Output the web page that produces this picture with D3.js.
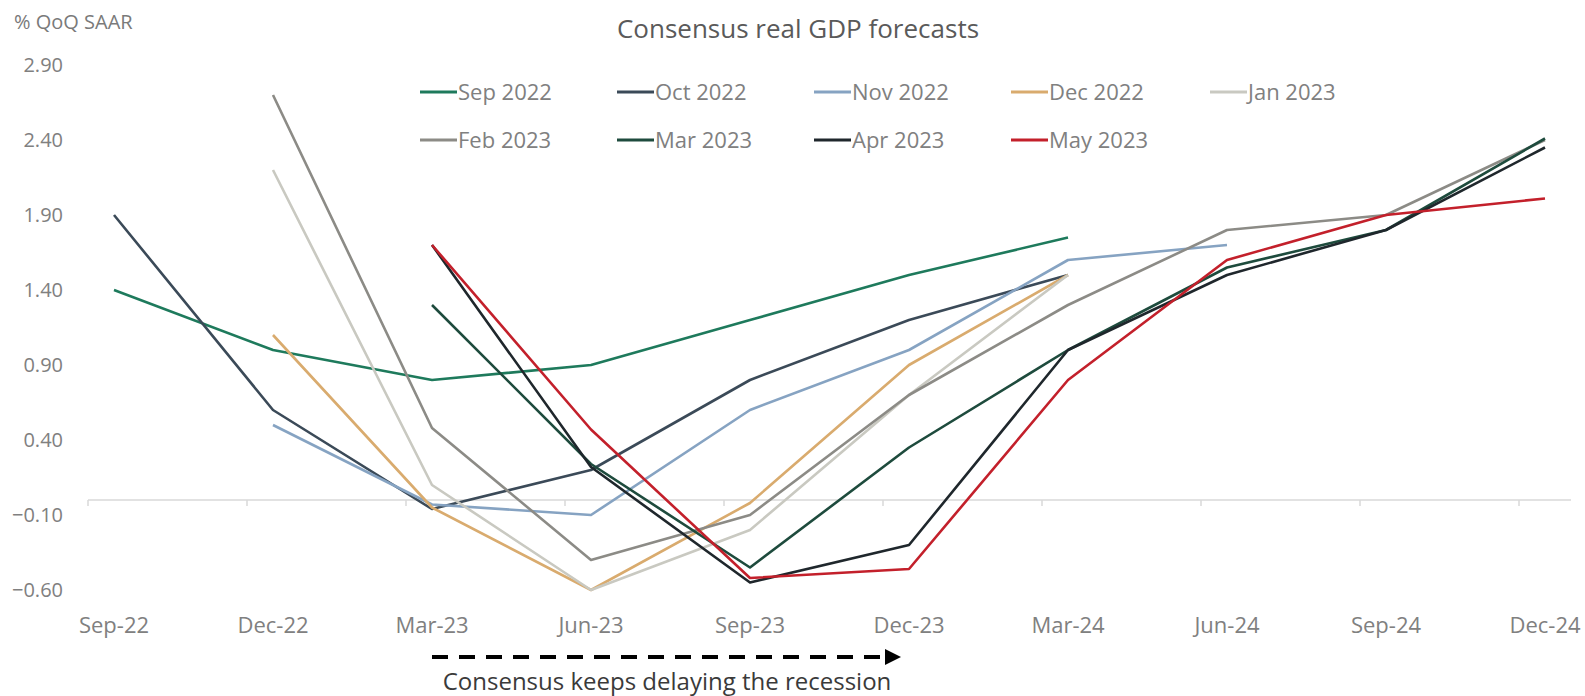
<!DOCTYPE html>
<html>
<head>
<meta charset="utf-8">
<script src="https://cdn.jsdelivr.net/npm/d3@7"></script>
<style>
  html, body { margin: 0; padding: 0; background: #fff; }
  svg { display: block; }
  text { font-family: "Open Sans", "Noto Sans", sans-serif; }
</style>
</head>
<body>
<svg id="chart" width="1585" height="696"></svg>
<script>
// ---- data ----
const categories = ["Sep-22","Dec-22","Mar-23","Jun-23","Sep-23","Dec-23","Mar-24","Jun-24","Sep-24","Dec-24"];
const yTicks = [-0.6, -0.1, 0.4, 0.9, 1.4, 1.9, 2.4, 2.9];

const seriesNames = ["Sep 2022","Oct 2022","Nov 2022","Dec 2022","Jan 2023","Feb 2023","Mar 2023","Apr 2023","May 2023"];
const seriesColors = ["#1e7a5c","#3b4a58","#86a3c2","#d9ab6e","#c9c9c1","#8c8b86","#1e4b3d","#1f272c","#c3202b"];

const sep2022 = [1.40, 1.00, 0.80, 0.90, 1.20, 1.50, 1.75, null, null, null];
const oct2022 = [1.90, 0.60, -0.06, 0.20, 0.80, 1.20, 1.50, null, null, null];
const nov2022 = [null, 0.50, -0.03, -0.10, 0.60, 1.00, 1.60, 1.70, null, null];
const dec2022 = [null, 1.10, -0.05, -0.60, -0.02, 0.90, 1.50, null, null, null];
const jan2023 = [null, 2.20, 0.10, -0.60, -0.20, 0.70, 1.50, null, null, null];
const feb2023 = [null, 2.70, 0.48, -0.40, -0.10, 0.70, 1.30, 1.80, 1.90, 2.40];
const mar2023 = [null, null, 1.30, 0.24, -0.45, 0.35, 1.00, 1.55, 1.80, 2.41];
const apr2023 = [null, null, 1.70, 0.22, -0.55, -0.30, 1.00, 1.50, 1.80, 2.35];
const may2023 = [null, null, 1.70, 0.47, -0.52, -0.46, 0.80, 1.60, 1.90, 2.01];

const seriesValues = [sep2022, oct2022, nov2022, dec2022, jan2023, feb2023, mar2023, apr2023, may2023];

// ---- layout ----
const svg = d3.select("#chart");
const x = d3.scalePoint().domain(categories).range([114, 1545]);
const y = d3.scaleLinear().domain([-0.6, 2.9]).range([590, 65]);

// title & unit label
svg.append("text").attr("x", 798).attr("y", 38).attr("text-anchor", "middle")
  .attr("font-size", 26).attr("fill", "#5a5a5a").text("Consensus real GDP forecasts");
svg.append("text").attr("x", 14).attr("y", 29).attr("font-size", 20).attr("fill", "#7a7a7a").text("% QoQ SAAR");

// y tick labels
svg.append("g").selectAll("text").data(yTicks).join("text")
  .attr("x", 63).attr("y", d => y(d)).attr("dy", "0.35em").attr("text-anchor", "end")
  .attr("font-size", 20).attr("fill", "#808080").text(d => d3.format(".2f")(d));

// zero line with tick marks
const axisG = svg.append("g");
axisG.append("line").attr("x1", x(categories[0]) - 26).attr("x2", x(categories[categories.length - 1]) + 26)
  .attr("y1", y(0)).attr("y2", y(0)).attr("stroke", "#d9d9d9").attr("stroke-width", 1.5);
axisG.selectAll("line.tk").data(categories).join("line").attr("class", "tk")
  .attr("x1", d => x(d) - 26).attr("x2", d => x(d) - 26)
  .attr("y1", y(0)).attr("y2", y(0) + 6).attr("stroke", "#d9d9d9").attr("stroke-width", 1.5);

// x category labels
svg.append("g").selectAll("text").data(categories).join("text")
  .attr("x", d => x(d)).attr("y", 633).attr("text-anchor", "middle")
  .attr("font-size", 22).attr("fill", "#808080").text(d => d);

// lines
const line = d3.line()
  .defined(d => d.v !== null)
  .x(d => x(d.c)).y(d => y(d.v));
svg.append("g").selectAll("path").data(seriesValues).join("path")
  .attr("fill", "none")
  .attr("stroke", (d, i) => seriesColors[i])
  .attr("stroke-width", 2.6)
  .attr("stroke-linejoin", "round")
  .attr("d", vals => line(vals.map((v, i) => ({ c: categories[i], v }))));

// legend
const legendCols = [420, 617, 814, 1011, 1210];
const legendRows = [92, 140];
const lg = svg.append("g").selectAll("g").data(seriesNames).join("g")
  .attr("transform", (d, i) => `translate(${legendCols[i % 5]},${legendRows[Math.floor(i / 5)]})`);
lg.append("line").attr("x1", 0).attr("x2", 37).attr("y1", 0).attr("y2", 0)
  .attr("stroke", (d, i) => seriesColors[i]).attr("stroke-width", 3);
lg.append("text").attr("x", 38).attr("y", 0).attr("dy", "0.35em")
  .attr("font-size", 22).attr("fill", "#808080").text(d => d);

// annotation arrow
const defs = svg.append("defs");
defs.append("marker").attr("id", "arrow").attr("viewBox", "0 0 10 10")
  .attr("refX", 5).attr("refY", 5).attr("markerWidth", 4).attr("markerHeight", 4)
  .attr("orient", "auto").append("path").attr("d", "M0,0 L10,5 L0,10 z").attr("fill", "#000");
svg.append("line").attr("x1", 432).attr("x2", 893).attr("y1", 657).attr("y2", 657)
  .attr("stroke", "#000").attr("stroke-width", 4).attr("stroke-dasharray", "16,11")
  .attr("marker-end", "url(#arrow)");
svg.append("text").attr("x", 667).attr("y", 690).attr("text-anchor", "middle")
  .attr("font-size", 24).attr("fill", "#3a3a3a").text("Consensus keeps delaying the recession");
</script>
</body>
</html>
